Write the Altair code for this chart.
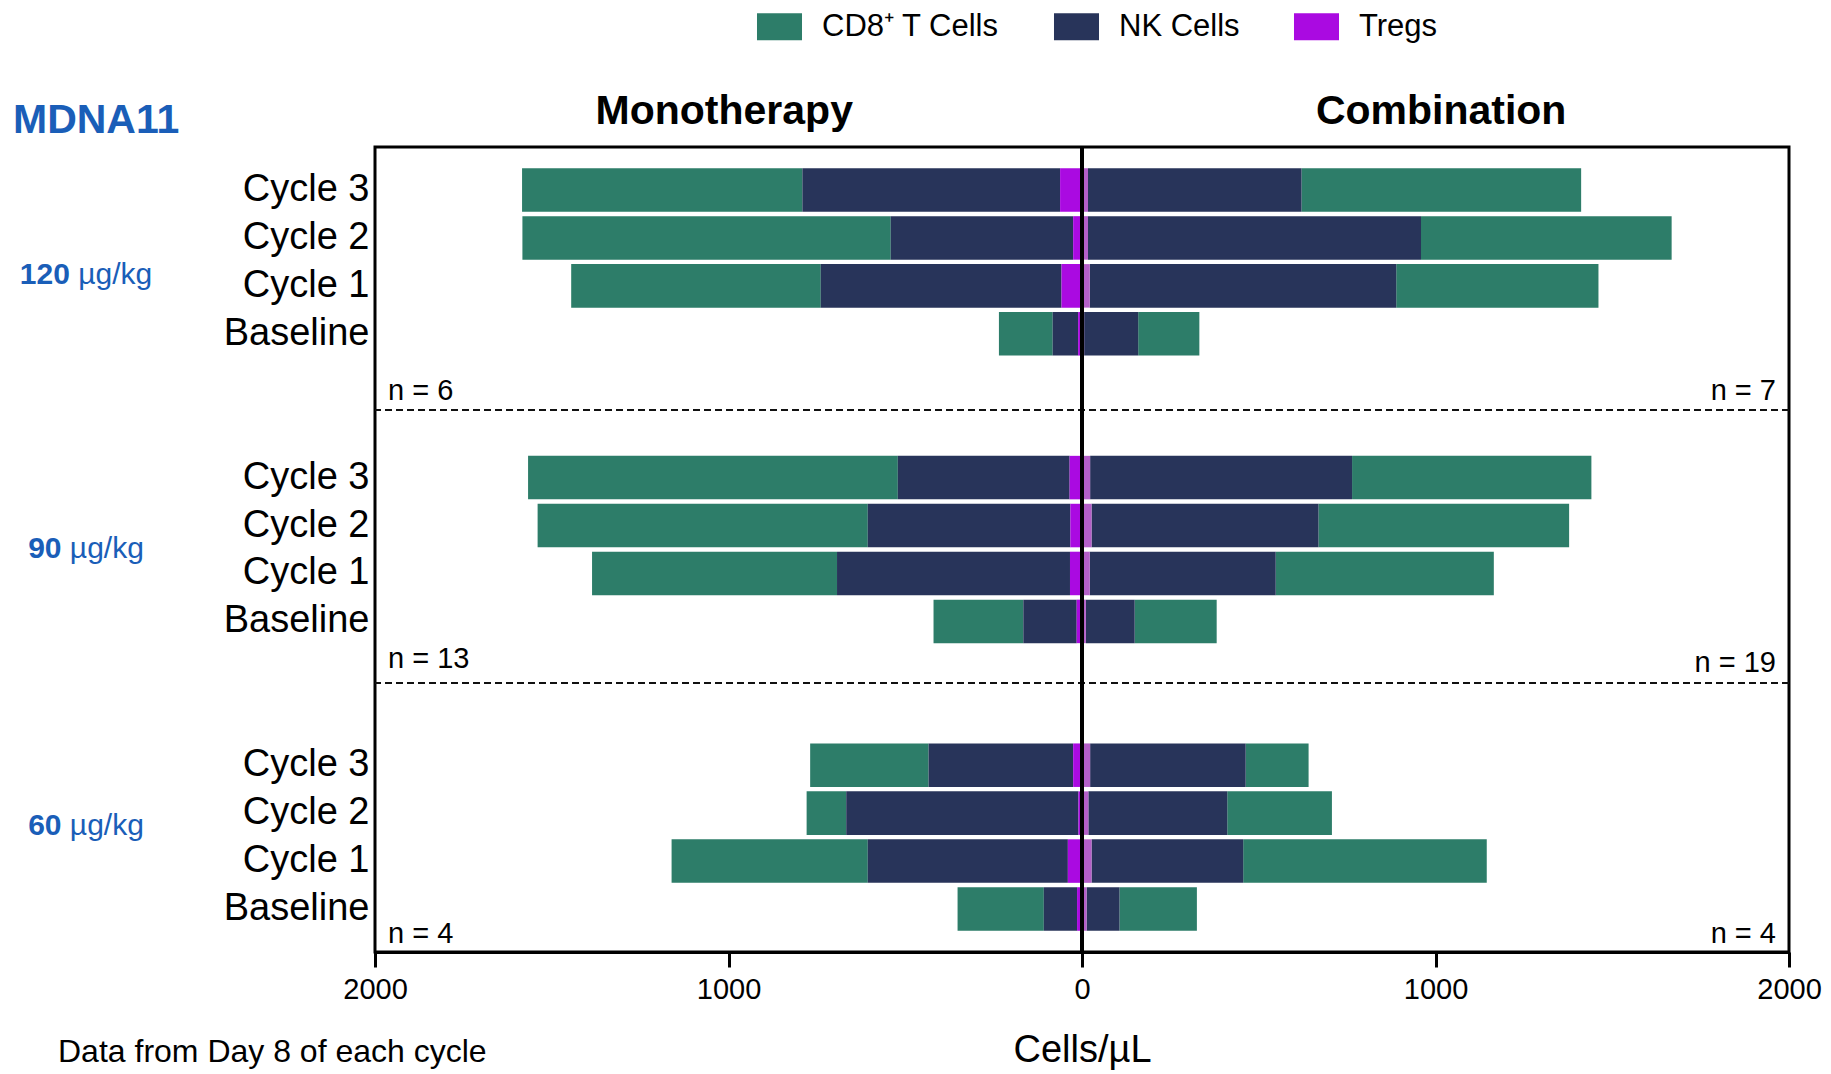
import altair as alt
import pandas as pd

# ---------------- data ----------------
cycles = ["Cycle 3", "Cycle 2", "Cycle 1", "Baseline"]
doses = ["120", "90", "60"]
populations = ["CD8⁺ T Cells", "NK Cells", "Tregs"]
arms = ["Monotherapy", "Combination"]
n_mono = ["n = 6", "n = 13", "n = 4"]
n_combo = ["n = 7", "n = 19", "n = 4"]

mono_cd8 = {"120": [793, 1042, 706, 152], "90": [1046, 934, 693, 254], "60": [335, 112, 555, 244]}
mono_nk = {"120": [729, 516, 681, 72], "90": [486, 573, 659, 151], "60": [409, 657, 566, 94]}
mono_treg = {"120": [62, 25, 58, 11], "90": [35, 33, 34, 15], "60": [25, 10, 40, 14]}
combo_cd8 = {"120": [791, 709, 572, 173], "90": [677, 709, 617, 232], "60": [178, 296, 689, 219]}
combo_nk = {"120": [604, 942, 867, 153], "90": [741, 642, 526, 138], "60": [440, 393, 429, 93]}
combo_treg = {"120": [17, 17, 22, 6], "90": [23, 27, 22, 11], "60": [23, 18, 27, 13]}

colors = ["#2d7d69", "#28345a", "#aa0ae1"]
treg_combo_color = "#b45fc8"
blue = "#1a5eb8"
FONT = "Liberation Sans"

# ---------------- build tables ----------------
row_domain = []
for i, d in enumerate(doses):
    row_domain += [f"{d}|{c}" for c in cycles]
    if i < len(doses) - 1:
        row_domain += [f"gap{i+1}|a", f"gap{i+1}|b"]

series = {
    ("Monotherapy", "CD8⁺ T Cells"): mono_cd8,
    ("Monotherapy", "NK Cells"): mono_nk,
    ("Monotherapy", "Tregs"): mono_treg,
    ("Combination", "CD8⁺ T Cells"): combo_cd8,
    ("Combination", "NK Cells"): combo_nk,
    ("Combination", "Tregs"): combo_treg,
}
order = {"Tregs": 0, "NK Cells": 1, "CD8⁺ T Cells": 2}
recs = []
for (arm, pop), vals in series.items():
    sign = -1 if arm == "Monotherapy" else 1
    for d in doses:
        for c, v in zip(cycles, vals[d]):
            recs.append({"arm": arm, "pop": pop, "row": f"{d}|{c}",
                         "val": sign * v, "ord": order[pop]})
df = pd.DataFrame(recs)

ysc = alt.Scale(domain=row_domain, paddingInner=0.092, paddingOuter=0.443)
xsc = alt.Scale(domain=[-2000, 2000], nice=False)

xaxis = alt.Axis(values=[-2000, -1000, 0, 1000, 2000],
                 labelExpr="format(abs(datum.value), 'd')",
                 title="Cells/µL", grid=False)
yaxis = alt.Axis(labelExpr="indexof(datum.value, 'gap') == 0 ? '' : split(datum.value, '|')[1]",
                 title=None, domain=False, ticks=False, labelPadding=6, grid=False,
                 labelFontSize=38, labelColor="black", labelFont=FONT)


def X(field):
    return alt.X(field, scale=xsc, axis=xaxis)


def Y(field):
    return alt.Y(field, scale=ysc, axis=yaxis, sort=row_domain)


bars = alt.Chart(df).mark_bar().encode(
    x=alt.X("val:Q", scale=xsc, axis=xaxis, stack="zero"),
    y=Y("row:N"),
    color=alt.condition(
        "datum.arm === 'Combination' && datum.pop === 'Tregs'",
        alt.value(treg_combo_color),
        alt.Color("pop:N", scale=alt.Scale(domain=populations, range=colors),
                  legend=alt.Legend(title=None, orient="none", direction="horizontal",
                                    legendX=389, legendY=-136,
                                    symbolType="M-1.667,-1H1.667V1H-1.667Z", symbolSize=729,
                                    symbolStrokeWidth=0, symbolOpacity=1,
                                    labelFontSize=31, labelFont=FONT, labelColor="black",
                                    labelLimit=0, labelOffset=27, columnPadding=53,
                                    padding=0)),
    ),
    order=alt.Order("ord:Q"),
)

# dashed separators (yOffset measured from the top of the band)
sep_df = pd.DataFrame({"row": ["gap1|a", "gap2|a"], "yoff": [50.0, 35.5]})
seps = alt.Chart(sep_df).mark_rule(color="#111", strokeWidth=2, strokeDash=[7, 4]).encode(
    y=Y("row:N"),
    yOffset=alt.YOffset("yoff:Q", scale=None),
)

zero = alt.Chart(pd.DataFrame({"z": [0]})).mark_rule(color="black", strokeWidth=4).encode(
    x=X("z:Q")
)

# n labels
nl_df = pd.DataFrame({"t": n_mono, "row": ["gap1|a", "gap2|a", "60|Baseline"],
                      "yoff": [40.0, 20.5, 55.8], "xv": [-2000] * 3})
nr_df = pd.DataFrame({"t": n_combo, "row": ["gap1|a", "gap2|a", "60|Baseline"],
                      "yoff": [40.0, 24.5, 55.8], "xv": [2000] * 3})
nleft = alt.Chart(nl_df).mark_text(align="left", baseline="alphabetic", dx=13,
                                    fontSize=29, font=FONT, color="black").encode(
    x=X("xv:Q"), y=Y("row:N"),
    yOffset=alt.YOffset("yoff:Q", scale=None),
    text="t:N",
)
nright = alt.Chart(nr_df).mark_text(align="right", baseline="alphabetic", dx=-13,
                                     fontSize=29, font=FONT, color="black").encode(
    x=X("xv:Q"), y=Y("row:N"),
    yOffset=alt.YOffset("yoff:Q", scale=None),
    text="t:N",
)

# arm titles (centred over each half)
arm_df = pd.DataFrame({"t": arms, "xv": [-1012, 1016]})
arm_titles = alt.Chart(arm_df).mark_text(baseline="alphabetic", fontSize=41, fontWeight="bold",
                                          font=FONT, color="black").encode(
    x=X("xv:Q"),
    y=alt.value(-23),
    text="t:N",
)

# dose labels (bold number + unit)
fs = 30
center = -289
rows = []
for d, yo in zip(doses, [10.8, -3.2, -13.2]):
    numw = len(d) * 0.556 * fs
    total = numw + 0.278 * fs + 2.466 * fs
    left = center - total / 2
    rows.append({"num": d, "unit": "µg/kg", "row": f"{d}|Cycle 1", "yoff": yo,
                 "nx": left, "ux": left + numw + 0.278 * fs})
dose_df = pd.DataFrame(rows)
dose_num = alt.Chart(dose_df).mark_text(align="left", baseline="middle", fontSize=fs,
                                         fontWeight="bold", font=FONT, color=blue).encode(
    x=alt.X("nx:Q", scale=None),
    y=Y("row:N"),
    yOffset=alt.YOffset("yoff:Q", scale=None),
    text="num:N",
)
dose_unit = alt.Chart(dose_df).mark_text(align="left", baseline="middle", fontSize=fs,
                                          font=FONT, color=blue).encode(
    x=alt.X("ux:Q", scale=None),
    y=Y("row:N"),
    yOffset=alt.YOffset("yoff:Q", scale=None),
    text="unit:N",
)

mdna = alt.Chart(pd.DataFrame({"t": ["MDNA11"]})).mark_text(
    align="left", baseline="alphabetic", fontSize=41, fontWeight="bold", font=FONT, color=blue
).encode(x=alt.value(-362), y=alt.value(-14), text="t:N")

foot = alt.Chart(pd.DataFrame({"t": ["Data from Day 8 of each cycle"]})).mark_text(
    align="left", baseline="alphabetic", fontSize=32, font=FONT, color="black"
).encode(x=alt.value(-317), y=alt.value(915), text="t:N")

chart = alt.layer(
    bars, seps, zero, nleft, nright, arm_titles, dose_num, dose_unit, mdna, foot
).properties(
    width=1414, height=805,
    autosize=alt.AutoSizeParams(type="none"),
    padding={"left": 367, "top": 139, "right": 34, "bottom": 124},
).configure(font=FONT).configure_view(
    stroke="black", strokeWidth=3
).configure_axisX(
    labelFontSize=29, labelFont=FONT, labelColor="black", labelPadding=8,
    labelFlush=False, labelOverlap=False,
    tickSize=15, tickWidth=3, tickColor="black",
    domainColor="black", domainWidth=3,
    titleFontSize=38, titleFont=FONT, titleFontWeight="normal", titleColor="black",
    titlePadding=27,
)

chart.save("out.html", embed_options={"renderer": "svg", "actions": False})
